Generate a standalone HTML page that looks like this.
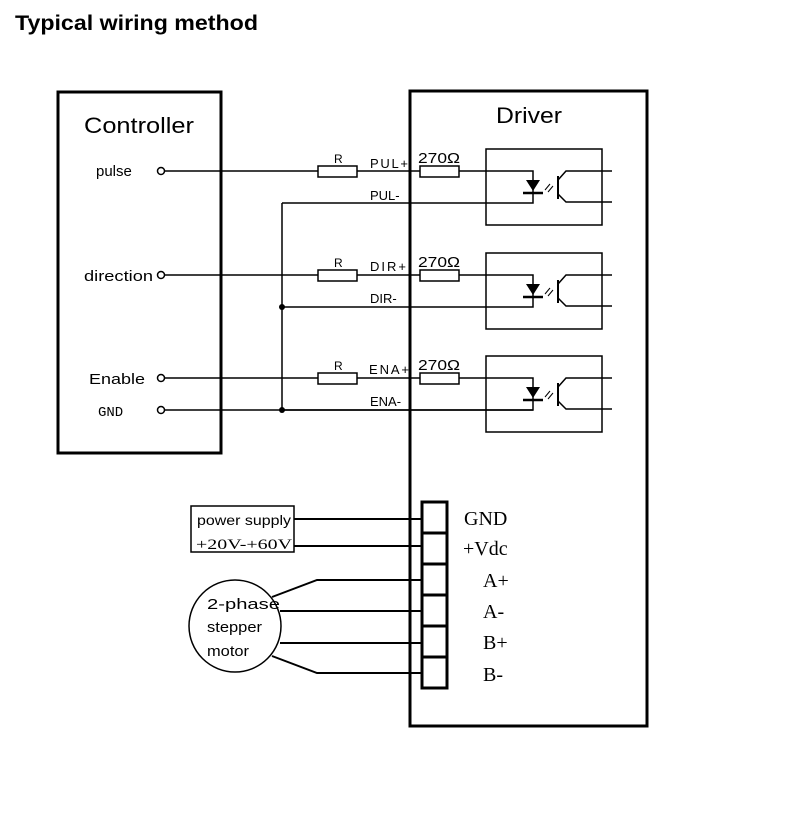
<!DOCTYPE html>
<html><head><meta charset="utf-8"><style>body{margin:0;background:#fff}svg{display:block}</style></head><body>
<svg width="800" height="829" viewBox="0 0 800 829" xmlns="http://www.w3.org/2000/svg" font-family="Liberation Sans, sans-serif">
<defs>
<g id="ch">
<rect x="318" y="166" width="39" height="11" fill="#fff" stroke="#000" stroke-width="1.5"/>
<rect x="420" y="166" width="39" height="11" fill="#fff" stroke="#000" stroke-width="1.5"/>
<rect x="486" y="149" width="116" height="76" fill="none" stroke="#000" stroke-width="1.5"/>
<line x1="165" y1="171" x2="318" y2="171" stroke="#000" stroke-width="1.5"/>
<line x1="357" y1="171" x2="420" y2="171" stroke="#000" stroke-width="1.5"/>
<polyline points="459,171 533,171 533,203 282,203" fill="none" stroke="#000" stroke-width="1.5"/>
<polygon points="526,180 540,180 533,191" fill="#000"/>
<line x1="523" y1="193" x2="543" y2="193" stroke="#000" stroke-width="2.5"/>
<line x1="545" y1="190" x2="550" y2="184" stroke="#000" stroke-width="1"/>
<line x1="548" y1="192" x2="553" y2="186" stroke="#000" stroke-width="1"/>
<line x1="558" y1="176" x2="558" y2="199" stroke="#000" stroke-width="2"/>
<polyline points="612,171 566,171 558,180" fill="none" stroke="#000" stroke-width="1.5"/>
<polyline points="612,202 566,202 558,194" fill="none" stroke="#000" stroke-width="1.5"/>
<circle cx="161" cy="171" r="3.5" fill="#fff" stroke="#000" stroke-width="1.5"/>
<text x="334" y="163" font-size="12">R</text>
<text x="418" y="163" font-size="15" textLength="42" lengthAdjust="spacingAndGlyphs">270Ω</text>
</g>
</defs>
<text x="15" y="30" font-size="21" font-weight="bold" textLength="243" lengthAdjust="spacingAndGlyphs">Typical wiring method</text>
<rect x="58" y="92" width="163" height="361" fill="none" stroke="#000" stroke-width="3"/>
<text x="84" y="133" font-size="22" textLength="110" lengthAdjust="spacingAndGlyphs">Controller</text>
<use href="#ch"/>
<use href="#ch" transform="translate(0,104)"/>
<use href="#ch" transform="translate(0,207)"/>
<line x1="282" y1="203" x2="282" y2="410" stroke="#000" stroke-width="1.5"/>
<line x1="165" y1="410" x2="533" y2="410" stroke="#000" stroke-width="1.5"/>
<circle cx="161" cy="410" r="3.5" fill="#fff" stroke="#000" stroke-width="1.5"/>
<circle cx="282" cy="307" r="3" fill="#000"/>
<circle cx="282" cy="410" r="3" fill="#000"/>
<text x="96" y="176" font-size="15">pulse</text>
<text x="84" y="281" font-size="15" textLength="69" lengthAdjust="spacingAndGlyphs">direction</text>
<text x="89" y="384" font-size="15" textLength="56" lengthAdjust="spacingAndGlyphs">Enable</text>
<text x="98" y="416" font-size="14" font-family="Liberation Mono, monospace">GND</text>
<g font-size="13">
<text x="370" y="168" textLength="38">PUL+</text><text x="370" y="200">PUL-</text>
<text x="370" y="271" textLength="36">DIR+</text><text x="370" y="303">DIR-</text>
<text x="369" y="374" textLength="40">ENA+</text><text x="370" y="406">ENA-</text>
</g>
<rect x="410" y="91" width="237" height="635" fill="none" stroke="#000" stroke-width="3"/>
<text x="496" y="123" font-size="22" textLength="66" lengthAdjust="spacingAndGlyphs">Driver</text>
<rect x="191" y="506" width="103" height="46" fill="#fff" stroke="#000" stroke-width="1.5"/>
<text x="197" y="525" font-size="14" textLength="94" lengthAdjust="spacingAndGlyphs">power supply</text>
<text x="196" y="549" font-size="15" font-family="Liberation Serif, serif" textLength="96" lengthAdjust="spacingAndGlyphs">+20V-+60V</text>
<g stroke="#000" stroke-width="2" fill="none">
<line x1="294" y1="519" x2="422" y2="519"/>
<line x1="294" y1="546" x2="422" y2="546"/>
<polyline points="272,597 317,580 422,580"/>
<line x1="280" y1="611" x2="422" y2="611"/>
<line x1="280" y1="643" x2="422" y2="643"/>
<polyline points="272,656 317,673 422,673"/>
</g>
<circle cx="235" cy="626" r="46" fill="#fff" stroke="#000" stroke-width="1.5"/>
<text x="207" y="609" font-size="15" textLength="73" lengthAdjust="spacingAndGlyphs">2-phase</text>
<text x="207" y="632" font-size="15" textLength="55" lengthAdjust="spacingAndGlyphs">stepper</text>
<text x="207" y="656" font-size="15" textLength="42" lengthAdjust="spacingAndGlyphs">motor</text>
<g fill="#fff" stroke="#000" stroke-width="3">
<rect x="422" y="502" width="25" height="31"/><rect x="422" y="533" width="25" height="31"/>
<rect x="422" y="564" width="25" height="31"/><rect x="422" y="595" width="25" height="31"/>
<rect x="422" y="626" width="25" height="31"/><rect x="422" y="657" width="25" height="31"/>
</g>
<g font-family="Liberation Serif, serif" font-size="20">
<text x="464" y="525">GND</text><text x="463" y="555">+Vdc</text>
<text x="483" y="587">A+</text><text x="483" y="618">A-</text>
<text x="483" y="649">B+</text><text x="483" y="681">B-</text>
</g>
</svg>
</body></html>
